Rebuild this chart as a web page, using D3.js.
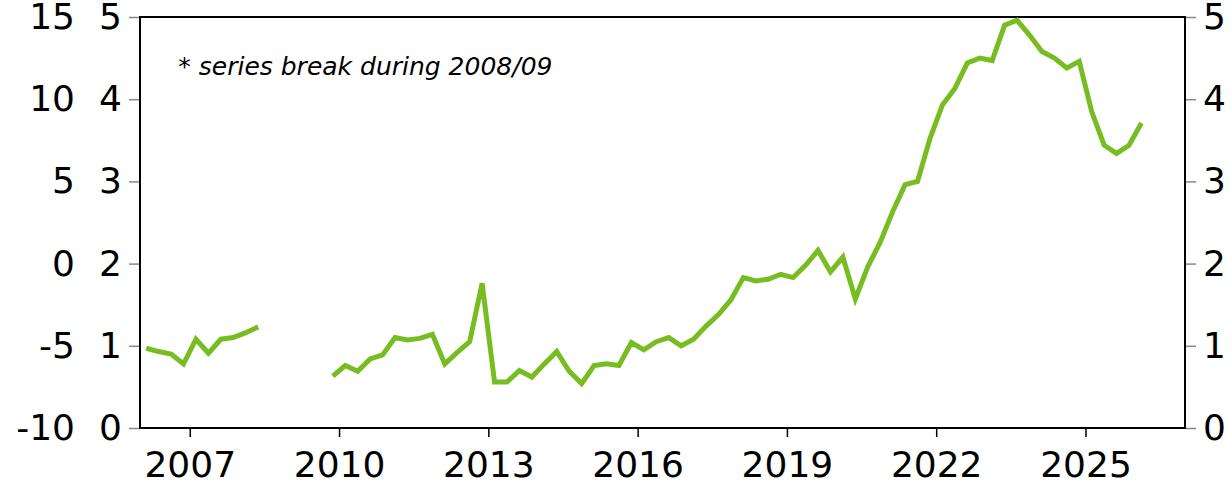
<!DOCTYPE html>
<html>
<head>
<meta charset="utf-8">
<script src="https://cdn.jsdelivr.net/npm/d3@7"></script>
<style>
  html, body { margin: 0; padding: 0; background: #fff; }
  svg { display: block; font-family: "DejaVu Sans", sans-serif; }
</style>
</head>
<body>
<svg id="chart"></svg>
<script>
// tamaño de la imagen
const WIDTH = 1230;
const HEIGHT = 488;

const margins = { top: 17, bottom: 60, left: 140, right: 45 };

// datos trimestrales, desde 2006 T1 (null = quiebre de serie)
const firstYear = 2006;
const values = [
  0.97, 0.93, 0.90, 0.78,   // 2006
  1.08, 0.91, 1.08, 1.10,   // 2007
  1.16, 1.23, null, null,   // 2008
  null, null, null, 0.63,   // 2009
  0.76, 0.69, 0.84, 0.89,   // 2010
  1.10, 1.07, 1.09, 1.14,   // 2011
  0.78, 0.92, 1.05, 1.76,   // 2012
  0.56, 0.56, 0.70, 0.62,   // 2013
  0.78, 0.93, 0.69, 0.54,   // 2014
  0.76, 0.78, 0.76, 1.04,   // 2015
  0.95, 1.05, 1.10, 1.00,   // 2016
  1.08, 1.24, 1.38, 1.56,   // 2017
  1.83, 1.79, 1.81, 1.87,   // 2018
  1.83, 1.98, 2.16, 1.90,   // 2019
  2.08, 1.57, 1.96, 2.26,   // 2020
  2.63, 2.96, 3.00, 3.52,   // 2021
  3.93, 4.13, 4.44, 4.50,   // 2022
  4.47, 4.90, 4.96, 4.78,   // 2023
  4.58, 4.50, 4.38, 4.46,   // 2024
  3.85, 3.44, 3.34, 3.44,   // 2025
  3.71                      // 2026
];

// etiquetas de los ejes
const xTicks = [2007, 2010, 2013, 2016, 2019, 2022, 2025];
const yTicksInner = [0, 1, 2, 3, 4, 5];
const yTicksOuter = [-10, -5, 0, 5, 10, 15];
const yTicksRight = [0, 1, 2, 3, 4, 5];
const note = "* series break during 2008/09";

const widthVis = WIDTH - margins.left - margins.right;
const heightVis = HEIGHT - margins.top - margins.bottom;

const svg = d3.select("#chart")
  .attr("width", WIDTH)
  .attr("height", HEIGHT);

// escalas
const x = d3.scaleLinear().domain([2006, 2027]).range([0, widthVis]);
const y = d3.scaleLinear().domain([0, 5]).range([heightVis, 0]);
const yOuter = d3.scaleLinear().domain([-10, 15]).range([heightVis, 0]);

const datos = values.map((v, i) => ({ t: firstYear + Math.floor(i / 4) + ((i % 4) + 0.5) / 4, v }));

const plot = svg.append("g")
  .attr("transform", `translate(${margins.left},${margins.top})`);

const fmt = d => String(d);

// eje izquierdo interior
const ejeIzq = plot.append("g")
  .call(d3.axisLeft(y).tickValues(yTicksInner).tickFormat(fmt).tickSize(11).tickPadding(7));
// eje izquierdo exterior (solo etiquetas)
const ejeExt = plot.append("g")
  .attr("transform", "translate(-65,0)")
  .call(d3.axisLeft(yOuter).tickValues(yTicksOuter).tickFormat(fmt).tickSize(0).tickPadding(0));
// eje derecho
const ejeDer = plot.append("g")
  .attr("transform", `translate(${widthVis},0)`)
  .call(d3.axisRight(y).tickValues(yTicksRight).tickFormat(fmt).tickSize(11).tickPadding(7));
// eje x
const ejeX = plot.append("g")
  .attr("transform", `translate(0,${heightVis})`)
  .call(d3.axisBottom(x).tickValues(xTicks).tickFormat(fmt).tickSize(9).tickPadding(14));

[ejeIzq, ejeExt, ejeDer, ejeX].forEach(g => {
  g.select(".domain").remove();
  g.selectAll("text").attr("font-size", 36).attr("fill", "#000").attr("font-family", "DejaVu Sans");
});
ejeIzq.selectAll(".tick line").attr("stroke", "#888").attr("stroke-width", 1.5);
ejeDer.selectAll(".tick line").attr("stroke", "#888").attr("stroke-width", 1.5);
ejeX.selectAll(".tick line").attr("stroke", "#000").attr("stroke-width", 1.5);
ejeX.selectAll("text").attr("dy", "0.71em");

// marco
plot.append("rect")
  .attr("x", 0).attr("y", 0)
  .attr("width", widthVis).attr("height", heightVis)
  .attr("fill", "none")
  .attr("stroke", "#000")
  .attr("stroke-width", 2);

// nota
plot.append("text")
  .attr("x", x(2006.77))
  .attr("y", 58)
  .attr("font-size", 25)
  .attr("font-style", "italic")
  .attr("fill", "#000")
  .text(note);

// línea
const linea = d3.line()
  .defined(d => d.v != null)
  .x(d => x(d.t))
  .y(d => y(d.v));

plot.append("path")
  .datum(datos)
  .attr("d", linea)
  .attr("fill", "none")
  .attr("stroke", "#77bd22")
  .attr("stroke-width", 5);
</script>
</body>
</html>
